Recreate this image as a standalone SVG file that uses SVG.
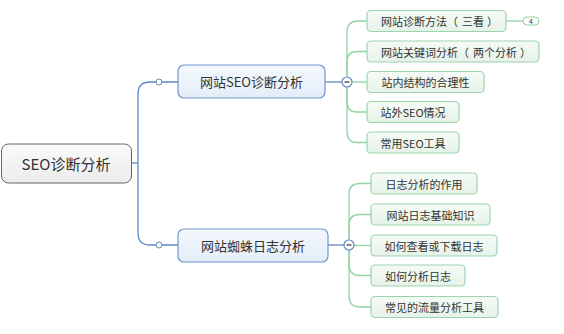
<svg xmlns="http://www.w3.org/2000/svg" width="564" height="334" viewBox="0 0 564 334">
<defs>
<linearGradient id="gRoot" x1="0" y1="0" x2="0" y2="1"><stop offset="0" stop-color="#fafafa"/><stop offset="1" stop-color="#ececec"/></linearGradient>
<linearGradient id="gBr" x1="0" y1="0" x2="0" y2="1"><stop offset="0" stop-color="#f4f8fd"/><stop offset="1" stop-color="#e4edf8"/></linearGradient>
<linearGradient id="gLf" x1="0" y1="0" x2="0" y2="1"><stop offset="0" stop-color="#f5fbf6"/><stop offset="1" stop-color="#e6f3e9"/></linearGradient>
</defs>
<style>
text{font-family:"Noto Sans CJK SC","Liberation Sans",sans-serif;fill:#333;text-anchor:middle;dominant-baseline:central}
text.s{text-anchor:start}
.root{fill:url(#gRoot);stroke:#666;stroke-width:1}
.br{fill:url(#gBr);stroke:#6f97cc;stroke-width:1.2}
.lf{fill:url(#gLf);stroke:#9dd4ac;stroke-width:1.2}
.bl{fill:none;stroke:#5d89c6;stroke-width:1.3}
.gl{fill:none;stroke:#93d3a3;stroke-width:1.3}
.dot{fill:#fff;stroke:#5d89c6;stroke-width:1}
.col{fill:#fff;stroke:#5d89c6;stroke-width:1.2}
.minus{stroke:#333;stroke-width:1.2}
.t1{font-size:15px}.t2{font-size:13px}.t3{font-size:11px}
</style>
<g id="connectors">
<path class="bl" d="M132,163 H138"/>
<path class="bl" d="M138,163 V94 Q138,82 150,82 H178"/>
<path class="bl" d="M138,163 V233 Q138,245 150,245 H178"/>
<path class="bl" d="M325,82 H342"/>
<path class="bl" d="M328,245 H344"/>
<path class="gl" d="M347,87 V32 Q347,21 358,21 H367"/>
<path class="gl" d="M347,87 V62 Q347,51.5 357,51.5 H367"/>
<path class="gl" d="M352,82 H367"/>
<path class="gl" d="M347,87 V102 Q347,112 357,112 H367"/>
<path class="gl" d="M347,87 V132 Q347,142.5 357,142.5 H367"/>
<path class="gl" d="M506,21 H523"/>
<path class="gl" d="M349,240 V194 Q349,183.5 360,183.5 H371"/>
<path class="gl" d="M349,240 V225 Q349,214.5 360,214.5 H371"/>
<path class="gl" d="M354,245.5 H371"/>
<path class="gl" d="M349,250 V265 Q349,275.5 360,275.5 H371"/>
<path class="gl" d="M349,250 V296 Q349,307 360,307 H371"/>
<circle class="dot" cx="159" cy="82" r="3"/>
<circle class="dot" cx="159" cy="245" r="3"/>
</g>
<g id="root"><rect class="root" x="1.5" y="144" width="130" height="39" rx="7"/><text class="t1" x="66" y="163.5">SEO诊断分析</text></g>
<g id="b1"><rect class="br" x="178" y="65" width="147" height="33" rx="6"/><text class="t2" x="251.5" y="81.5">网站SEO诊断分析</text>
<circle class="col" cx="347" cy="82" r="5"/><line class="minus" x1="344.5" y1="82" x2="349.5" y2="82"/></g>
<g id="b2"><rect class="br" x="178" y="229" width="150" height="33" rx="6"/><text class="t2" x="253" y="245.5">网站蜘蛛日志分析</text>
<circle class="col" cx="349" cy="245" r="5"/><line class="minus" x1="346.5" y1="245" x2="351.5" y2="245"/></g>
<g id="l1"><rect class="lf" x="367" y="10.5" width="139" height="21" rx="4"/><text class="t3 s" x="381" y="21">网站诊断方法（<tspan dx="4">三看</tspan><tspan dx="3">）</tspan></text>
<rect x="523" y="17" width="16" height="8" rx="4" fill="#fff" stroke="#8fcf9f" stroke-width="1"/><text x="531" y="21" style="font-size:7px">4</text></g>
<g id="l2"><rect class="lf" x="367" y="41" width="172" height="21" rx="4"/><text class="t3 s" x="381" y="51.5">网站关键词分析（<tspan dx="4">两个分析</tspan><tspan dx="3">）</tspan></text></g>
<g id="l3"><rect class="lf" x="367" y="71.5" width="117" height="21" rx="4"/><text class="t3" x="425.5" y="82">站内结构的合理性</text></g>
<g id="l4"><rect class="lf" x="367" y="101.5" width="92" height="21" rx="4"/><text class="t3" x="413" y="112">站外SEO情况</text></g>
<g id="l5"><rect class="lf" x="367" y="132" width="92" height="21" rx="4"/><text class="t3" x="413" y="142.5">常用SEO工具</text></g>
<g id="m1"><rect class="lf" x="371" y="173" width="106" height="21" rx="4"/><text class="t3" x="424" y="183.5">日志分析的作用</text></g>
<g id="m2"><rect class="lf" x="371" y="204" width="119" height="21" rx="4"/><text class="t3" x="430.5" y="214.5">网站日志基础知识</text></g>
<g id="m3"><rect class="lf" x="371" y="235" width="126" height="21" rx="4"/><text class="t3" x="434" y="245.5">如何查看或下载日志</text></g>
<g id="m4"><rect class="lf" x="371" y="265" width="94" height="21" rx="4"/><text class="t3" x="418" y="275.5">如何分析日志</text></g>
<g id="m5"><rect class="lf" x="371" y="296.5" width="127" height="21" rx="4"/><text class="t3" x="434.5" y="307">常见的流量分析工具</text></g>
</svg>
